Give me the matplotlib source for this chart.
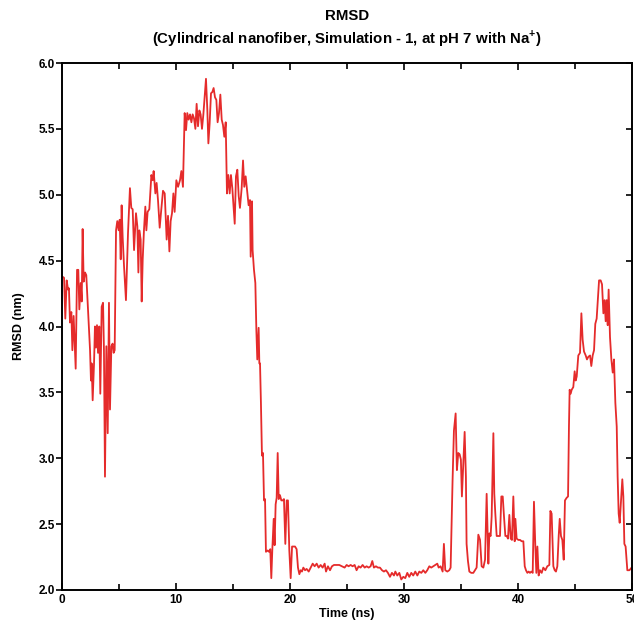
import matplotlib
matplotlib.use('Agg')
import matplotlib.pyplot as plt
from matplotlib.ticker import MultipleLocator

plt.rcParams['font.family'] = 'Liberation Sans'
plt.rcParams['font.weight'] = 'bold'
plt.rcParams['axes.labelweight'] = 'bold'
plt.rcParams['mathtext.fontset'] = 'custom'
plt.rcParams['mathtext.rm'] = 'Liberation Sans:bold'
plt.rcParams['mathtext.bf'] = 'Liberation Sans:bold'

# RMSD trace (time in ns, RMSD in nm)
time_ns = [
    0.00, 0.18, 0.29, 0.41, 0.53, 0.61, 0.70, 0.82, 0.91, 1.02, 1.20, 1.32, 1.43, 1.52, 1.64, 1.73,
    1.81, 1.90, 2.02, 2.13, 2.28, 2.46, 2.54, 2.60, 2.69, 2.81, 2.89, 2.98, 3.07, 3.16, 3.27, 3.36,
    3.48, 3.60, 3.68, 3.77, 3.89, 4.01, 4.12, 4.21, 4.33, 4.44, 4.53, 4.62, 4.74, 4.85, 4.97, 5.06,
    5.15, 5.23, 5.32, 5.44, 5.61, 5.79, 5.96, 6.08, 6.20, 6.32, 6.49, 6.61, 6.70, 6.78, 6.90, 6.99,
    7.08, 7.19, 7.31, 7.40, 7.51, 7.66, 7.84, 7.95, 8.04, 8.19, 8.30, 8.42, 8.57, 8.68, 8.86, 9.01,
    9.18, 9.30, 9.42, 9.53, 9.65, 9.77, 9.88, 10.03, 10.18, 10.35, 10.47, 10.61,
    10.76, 10.88, 10.99, 11.11, 11.23, 11.35, 11.46, 11.58, 11.70, 11.81, 11.93, 12.05, 12.16, 12.28,
    12.40, 12.51, 12.63, 12.75, 12.84, 12.95, 13.07, 13.19, 13.30, 13.42, 13.54, 13.65, 13.77, 13.89,
    14.01, 14.12, 14.24, 14.36, 14.47, 14.59, 14.71, 14.82, 14.94,
    15.15, 15.26, 15.38, 15.50, 15.61, 15.76, 15.88, 15.99, 16.11, 16.26, 16.37, 16.49, 16.55, 16.67,
    16.72, 16.84, 16.96, 17.05, 17.13, 17.25, 17.31, 17.37, 17.45, 17.54, 17.63, 17.72, 17.81, 17.89,
    18.04, 18.16, 18.27, 18.36, 18.45, 18.57, 18.65, 18.74, 18.83, 18.92, 19.01, 19.12, 19.24, 19.36,
    19.47, 19.59, 19.71, 19.82, 19.94, 20.06, 20.18, 20.29, 20.44, 20.58, 20.70, 20.82, 20.94, 21.05,
    21.17, 21.32, 21.46, 21.64,
    21.99, 22.16, 22.34, 22.51, 22.69, 22.86, 23.04, 23.16, 23.33, 23.51, 23.68, 23.86, 24.09, 24.32,
    24.56, 24.79, 24.97, 25.14, 25.32, 25.49, 25.67, 25.84, 26.02, 26.19, 26.37, 26.55, 26.72, 26.90,
    27.07, 27.22, 27.36, 27.54, 27.71, 27.89, 28.07, 28.24, 28.42, 28.59, 28.77, 28.94, 29.12, 29.24,
    29.41, 29.59, 29.76, 29.94, 30.11, 30.29, 30.46, 30.64, 30.81, 30.99, 31.17, 31.34, 31.52, 31.69,
    31.87, 32.04, 32.22, 32.39, 32.57, 32.74, 32.92, 33.04, 33.21, 33.39, 33.50, 33.62, 33.80, 33.97,
    34.09, 34.26, 34.38, 34.53, 34.64, 34.76, 34.88, 34.99, 35.08, 35.20, 35.32, 35.43, 35.49, 35.61,
    35.73, 35.90,
    36.08, 36.37, 36.52, 36.67, 36.81, 36.96, 37.11, 37.25, 37.40, 37.49, 37.60, 37.69, 37.84, 37.92,
    38.01, 38.13, 38.28, 38.42, 38.54, 38.66, 38.77, 38.89, 39.01, 39.12, 39.24, 39.36, 39.47, 39.59,
    39.71, 39.77, 39.88, 40.03, 40.18, 40.32, 40.47, 40.59, 40.70, 40.82, 40.94, 41.05, 41.17, 41.29,
    41.40, 41.52, 41.61, 41.70, 41.81, 41.93, 42.08, 42.22, 42.40, 42.57, 42.75, 42.84, 42.95, 43.10,
    43.22, 43.33, 43.45, 43.57, 43.66, 43.77, 43.89, 44.01, 44.12, 44.27, 44.39, 44.47, 44.53, 44.62,
    44.71, 44.85, 44.97, 45.06, 45.15, 45.29, 45.44, 45.56, 45.67, 45.79, 45.94, 46.05, 46.17, 46.32,
    46.43, 46.55, 46.67, 46.78, 46.90, 46.99, 47.11, 47.25, 47.37, 47.49, 47.60, 47.69, 47.78, 47.87,
    47.95, 48.07, 48.19, 48.31, 48.42, 48.54, 48.66, 48.74, 48.83, 48.92, 49.04, 49.15, 49.24, 49.33,
    49.44, 49.59, 49.77, 49.97, 50.00,
]

rmsd_nm = [
    4.38, 4.37, 4.06, 4.35, 4.28, 4.29, 4.03, 4.11, 3.82, 4.08, 3.68, 4.43, 4.43, 4.13, 4.33, 4.19,
    4.74, 4.34, 4.41, 4.39, 4.13, 3.82, 3.59, 3.72, 3.44, 3.72, 4.00, 3.84, 4.01, 3.80, 4.00, 3.49,
    4.15, 4.18, 3.82, 2.86, 3.85, 3.19, 4.18, 3.37, 3.85, 3.87, 3.80, 3.82, 4.73, 4.80, 4.73, 4.81,
    4.51, 4.92, 4.68, 4.46, 4.20, 4.71, 5.05, 4.90, 4.89, 4.58, 4.86, 4.76, 4.41, 4.73, 4.66, 4.19,
    4.51, 4.73, 4.91, 4.73, 4.87, 4.89, 5.15, 5.11, 5.18, 5.01, 5.09, 4.96, 4.75, 4.86, 5.03, 5.01,
    4.66, 4.84, 4.57, 4.80, 4.86, 5.01, 4.87, 5.11, 5.06, 5.11, 5.18, 5.06,
    5.62, 5.49, 5.62, 5.57, 5.61, 5.55, 5.61, 5.58, 5.50, 5.69, 5.52, 5.64, 5.61, 5.50,
    5.61, 5.74, 5.88, 5.64, 5.39, 5.54, 5.77, 5.78, 5.81, 5.74, 5.72, 5.55, 5.62, 5.76,
    5.57, 5.53, 5.44, 5.55, 5.01, 5.15, 5.01, 5.15, 5.05,
    4.78, 5.14, 5.19, 4.99, 4.90, 5.05, 5.26, 5.06, 5.14, 5.01, 4.92, 4.96, 4.53, 4.95,
    4.58, 4.43, 4.33, 3.97, 3.75, 3.99, 3.72, 3.72, 3.42, 3.02, 3.04, 2.68, 2.69, 2.29,
    2.30, 2.29, 2.31, 2.09, 2.31, 2.54, 2.34, 2.65, 2.70, 3.04, 2.69, 2.72, 2.68, 2.68,
    2.69, 2.35, 2.68, 2.68, 2.30, 2.09, 2.33, 2.33, 2.33, 2.31, 2.17, 2.12, 2.15, 2.14,
    2.17, 2.15, 2.16, 2.14,
    2.20, 2.18, 2.20, 2.17, 2.19, 2.17, 2.20, 2.14, 2.18, 2.15, 2.18, 2.19, 2.19, 2.19,
    2.18, 2.17, 2.19, 2.18, 2.19, 2.18, 2.19, 2.15, 2.18, 2.17, 2.19, 2.17, 2.18, 2.17,
    2.18, 2.22, 2.17, 2.18, 2.17, 2.17, 2.15, 2.14, 2.15, 2.13, 2.10, 2.13, 2.11, 2.14,
    2.11, 2.13, 2.08, 2.10, 2.09, 2.13, 2.10, 2.13, 2.11, 2.14, 2.11, 2.14, 2.13, 2.15,
    2.13, 2.15, 2.18, 2.17, 2.18, 2.19, 2.20, 2.17, 2.18, 2.14, 2.35, 2.15, 2.14, 2.15,
    2.17, 2.83, 3.21, 3.34, 2.91, 3.04, 3.03, 2.99, 2.71, 2.96, 3.20, 2.86, 2.35, 2.22,
    2.14, 2.13,
    2.13, 2.17, 2.42, 2.38, 2.18, 2.17, 2.23, 2.73, 2.20, 2.43, 2.41, 2.56, 3.19, 2.73,
    2.58, 2.41, 2.41, 2.41, 2.71, 2.71, 2.56, 2.41, 2.41, 2.39, 2.57, 2.39, 2.38, 2.71,
    2.37, 2.54, 2.39, 2.38, 2.38, 2.37, 2.37, 2.18, 2.15, 2.13, 2.14, 2.13, 2.14, 2.13,
    2.67, 2.33, 2.13, 2.33, 2.11, 2.15, 2.13, 2.17, 2.15, 2.18, 2.19, 2.60, 2.58, 2.18,
    2.15, 2.14, 2.18, 2.41, 2.54, 2.41, 2.38, 2.23, 2.68, 2.70, 2.71, 3.24, 3.52, 3.49,
    3.52, 3.54, 3.66, 3.59, 3.62, 3.78, 3.80, 4.10, 3.90, 3.81, 3.78, 3.75, 3.77, 3.78,
    3.70, 3.78, 3.82, 4.02, 4.06, 4.18, 4.35, 4.35, 4.32, 4.10, 4.20, 4.04, 4.20, 4.01,
    4.28, 3.92, 3.75, 3.65, 3.75, 3.42, 3.24, 2.86, 2.58, 2.51, 2.68, 2.84, 2.71, 2.35,
    2.33, 2.15, 2.15, 2.17, 2.16,
]

x_ticks = [0, 10, 20, 30, 40, 50]
y_ticks = [2.0, 2.5, 3.0, 3.5, 4.0, 4.5, 5.0, 5.5, 6.0]

fig = plt.figure(figsize=(6.34, 6.22), dpi=100)
ax = fig.add_axes([62 / 634, 1 - 590 / 622, 570 / 634, 527 / 622])

ax.plot(time_ns, rmsd_nm, color='#e52b2b', lw=1.3)

ax.set_xlim(0, 50)
ax.set_ylim(2.0, 6.0)
ax.set_xticks(x_ticks)
ax.xaxis.set_minor_locator(MultipleLocator(5))
ax.set_yticks(y_ticks)
ax.set_yticklabels([f'{v:.1f}' for v in y_ticks])

for s in ax.spines.values():
    s.set_linewidth(1.4)
    s.set_color('black')

ax.tick_params(axis='x', which='both', direction='in', top=True, width=1.2,
               labelsize=8.5, pad=3)
ax.tick_params(axis='x', which='major', length=5)
ax.tick_params(axis='x', which='minor', length=4)
ax.tick_params(axis='y', direction='out', length=4, width=1.2, labelsize=8.5, pad=1)

# right-hand ticks point inward while the left ones point outward
ax_r = ax.twinx()
ax_r.set_ylim(2.0, 6.0)
ax_r.set_yticks(y_ticks)
ax_r.tick_params(axis='y', direction='in', length=4, width=1.2, labelright=False)
for s in ax_r.spines.values():
    s.set_visible(False)

ax.set_xlabel('Time (ns)', fontsize=9, fontweight='bold', labelpad=1)
ax.set_ylabel('RMSD (nm)', fontsize=9, fontweight='bold', labelpad=10)

fig.text(347 / 634, 1 - 16 / 622, 'RMSD', ha='center', va='center', fontsize=10.8)
fig.text(347 / 634, 1 - 39 / 622,
         r'(Cylindrical nanofiber, Simulation - 1, at pH 7 with Na$^{\mathbf{+}}$)',
         ha='center', va='center', fontsize=10.8)

fig.savefig('out.png', dpi=100, facecolor='white')
